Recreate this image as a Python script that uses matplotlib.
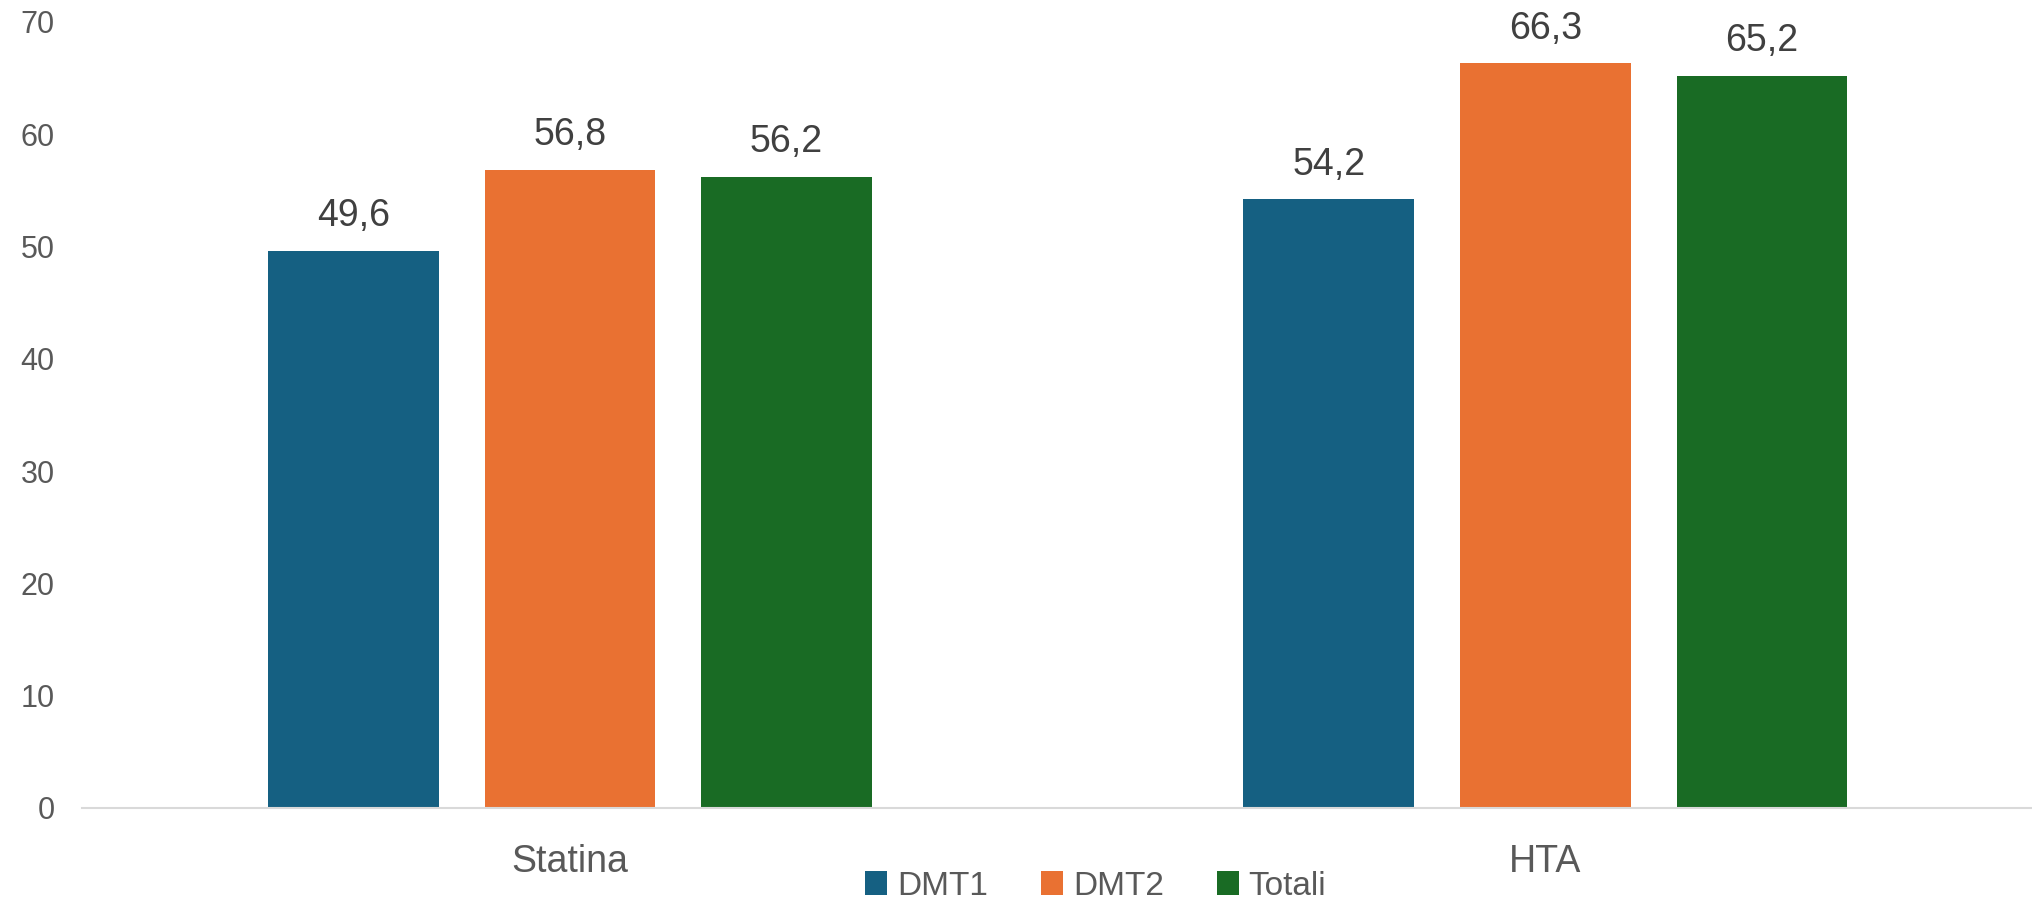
import numpy as np
import matplotlib
matplotlib.use('Agg')
from matplotlib import pyplot as plt

categories = ['Statina', 'HTA']
series = ['DMT1', 'DMT2', 'Totali']
dmt1 = [49.6, 54.2]
dmt2 = [56.8, 66.3]
totali = [56.2, 65.2]
colors = ['#156082', '#E97132', '#196B24']

plt.rcParams['font.family'] = ['Liberation Sans', 'DejaVu Sans']

fig = plt.figure(figsize=(20.33, 9.14), dpi=100)
ax = fig.add_axes([0.0405, 0.116, 0.9595, 0.86])

x = np.arange(len(categories))
w = 0.175
step = 0.222
for i, (name, vals) in enumerate(zip(series, [dmt1, dmt2, totali])):
    bars = ax.bar(x + (i - 1) * step, vals, w, color=colors[i], label=name)
    for b, v in zip(bars, vals):
        ax.text(b.get_x() + b.get_width() / 2, v + 1.5, f'{v:.1f}'.replace('.', ','),
                ha='center', va='bottom', fontsize=27, color='#404040')

ax.set_xlim(-0.5, 1.5)
ax.set_ylim(0, 70)
ax.set_yticks(range(0, 71, 10))
ax.set_xticks(x)
ax.set_xticklabels(categories, fontsize=27, color='#595959')
ax.tick_params(axis='y', labelsize=22, labelcolor='#595959', length=0, pad=20)
ax.tick_params(axis='x', length=0, pad=26)
for s in ['top', 'right', 'left']:
    ax.spines[s].set_visible(False)
ax.spines['bottom'].set_color('#D9D9D9')
ax.spines['bottom'].set_linewidth(1.5)

leg = fig.legend(loc='lower center', bbox_to_anchor=(0.539, -0.012), ncol=3, frameon=False,
                 handlelength=0.65, handleheight=0.7, handletextpad=0.3,
                 columnspacing=1.6, labelcolor='#595959', borderpad=0.2,
                 prop={'size': 24})

fig.savefig('out.png', dpi=100)
